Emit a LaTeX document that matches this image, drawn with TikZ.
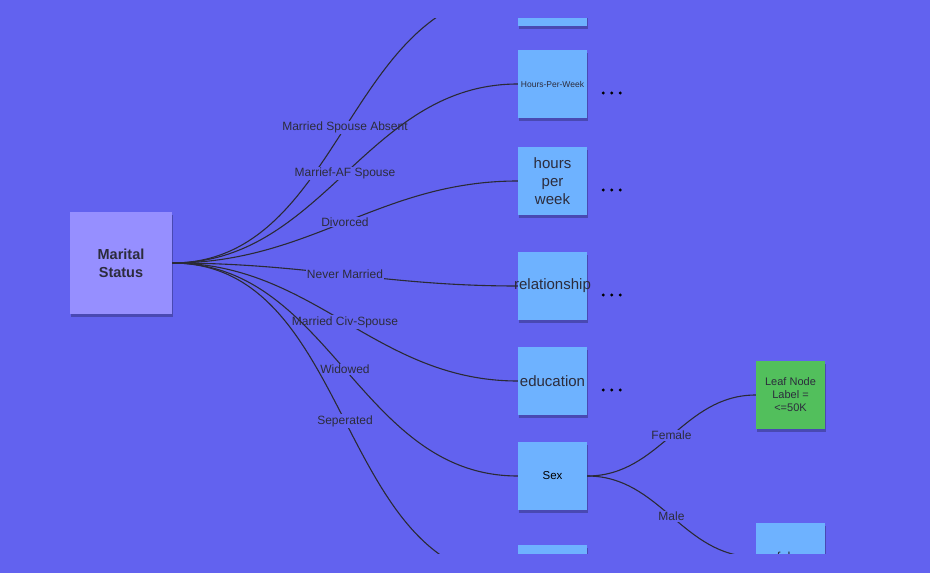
\documentclass[tikz,border=0pt]{standalone}
\usepackage{fontspec}
\setmainfont{Liberation Sans}
\usetikzlibrary{positioning,shadows,calc}
\definecolor{bgblue}{HTML}{6262EF}
\definecolor{rootlila}{HTML}{968FFF}
\definecolor{boxblue}{HTML}{6EB2FF}
\definecolor{leafgreen}{HTML}{52BF5C}
\definecolor{txt}{HTML}{2C2C3C}
\definecolor{wire}{HTML}{2A2A35}
\newcommand{\fs}[1]{\fontsize{#1}{#1}\selectfont}

\begin{document}
\begin{tikzpicture}[x=1pt,y=-1pt,
attr/.style ={rectangle, fill=boxblue, inner sep=0pt, align=center,
  minimum width=69pt, minimum height=68pt, text=txt,
  drop shadow={shadow xshift=1pt, shadow yshift=-3pt, opacity=0.25, fill=black}},
root/.style ={attr, fill=rootlila, minimum width=102pt, minimum height=102pt,
  font=\bfseries\fs{14.5}, execute at begin node=\setlength{\baselineskip}{18pt}},
leaf/.style ={attr, fill=leafgreen, font=\fs{11}, execute at begin node=\setlength{\baselineskip}{13pt}},
lbl/.style ={fill=bgblue, inner sep=1pt, text=txt, font=\fs{12}},
link/.style ={draw=wire, line width=1.1pt, out=0, in=180}]
\useasboundingbox (0,0) rectangle (930,573);
\fill[bgblue] (0,0) rectangle (930,573);

\begin{scope}
\clip (0,18) rectangle (930,553);
% root and attribute boxes
\node[root] (ms) at (121,263) {Marital\\Status};
\node[attr] (top) at (552.5,-8) {};
\node[attr, font=\fs{8.5}] (hpw) at (552.5,84) {Hours-Per-Week};
\node[attr, font=\fs{15}, execute at begin node=\setlength{\baselineskip}{18pt}] (hours) at (552.5,181) {hours\\per\\week};
\node[attr, font=\fs{15}] (rel) at (552.5,286) {\makebox[0pt]{relationship}};
\node[attr, font=\fs{15}] (edu) at (552.5,381) {education};
\node[attr, font=\fs{11.5}, text=black] (sex) at (552.5,476) {Sex};
\node[attr] (bottom) at (552.5,579) {};
% leaves of Sex
\node[leaf] (female) at (790.5,395) {Leaf Node\\Label =\\<=50K};
\node[attr, font=\fs{13}] (male) at (790.5,557) {false};

% branches
\path (ms.east) edge[link] node[lbl, midway] {Married Spouse Absent} (top.west);
\path (ms.east) edge[link] node[lbl, midway] {Marrief-AF Spouse} (hpw.west);
\path (ms.east) edge[link] node[lbl, midway] {Divorced} (hours.west);
\path (ms.east) edge[link] node[lbl, midway] {Never Married} (rel.west);
\path (ms.east) edge[link] node[lbl, midway] {Married Civ-Spouse} (edu.west);
\path (ms.east) edge[link] node[lbl, midway] {Widowed} (sex.west);
\path (ms.east) edge[link] node[lbl, midway] {Seperated} (bottom.west);
\path (sex.east) edge[link] node[lbl, midway] {Female} (female.west);
\path (sex.east) edge[link] node[lbl, midway] {Male} (male.west);

% more subtrees
\foreach \b in {hpw,hours,rel,edu}
  \foreach \i in {0,1,2}
    \fill[black] ($(\b.east)+(16+8.5*\i,9)$) circle (1.7pt);
\end{scope}
\end{tikzpicture}
\end{document}
